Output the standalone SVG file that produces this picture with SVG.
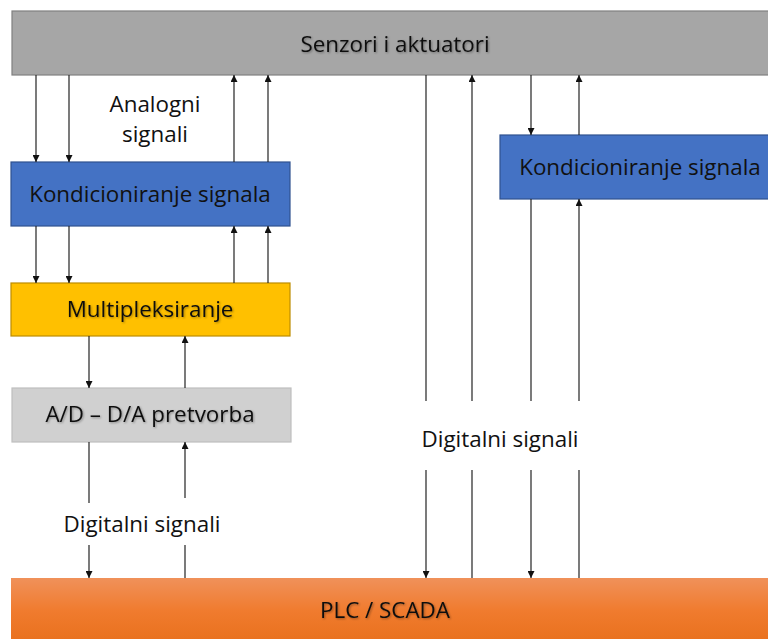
<svg xmlns="http://www.w3.org/2000/svg" width="768" height="639" viewBox="0 0 768 639">
<style>
.t{font-family:"Open Sans","Noto Sans","Liberation Sans",sans-serif;font-size:22.4px;fill:#111;text-anchor:middle}
.c line{stroke:#222;stroke-width:1.2;fill:none}
.a{marker-end:url(#ah)}
</style>
<defs>
<marker id="ah" viewBox="0 0 10 10" refX="10" refY="5" markerWidth="7" markerHeight="7" markerUnits="userSpaceOnUse" orient="auto"><path d="M0,0 L10,5 L0,10 z" fill="#111"/></marker>
<linearGradient id="og" x1="0" y1="0" x2="0" y2="1"><stop offset="0" stop-color="#f0915a"/><stop offset="0.5" stop-color="#f07b2e"/><stop offset="1" stop-color="#e8701c"/></linearGradient>
<filter id="sh" x="-10%" y="-10%" width="120%" height="130%"><feDropShadow dx="1" dy="1" stdDeviation="0.8" flood-color="#000" flood-opacity="0.35"/></filter>
</defs>
<rect width="768" height="639" fill="#fff"/>
<g id="senzori"><rect x="12" y="11" width="760" height="64" fill="#a6a6a6" stroke="#808080" stroke-width="1.2"/><text class="t" x="395" y="52" filter="url(#sh)">Senzori i aktuatori</text></g>
<g id="kond1"><rect x="11" y="162" width="279" height="64" fill="#4472c4" stroke="#2f528f" stroke-width="1.2"/><text class="t" x="150" y="202">Kondicioniranje signala</text></g>
<g id="kond2"><rect x="500" y="135" width="272" height="64" fill="#4472c4" stroke="#2f528f" stroke-width="1.2"/><text class="t" x="640" y="175">Kondicioniranje signala</text></g>
<g id="mux"><rect x="11" y="283" width="279" height="53" fill="#ffc000" stroke="#bc8c00" stroke-width="1.2"/><text class="t" x="150" y="317" filter="url(#sh)">Multipleksiranje</text></g>
<g id="adda"><rect x="12" y="388" width="279" height="54" fill="#d0d0d0" stroke="#bfbfbf" stroke-width="1.2"/><text class="t" x="150" y="422" filter="url(#sh)">A/D – D/A pretvorba</text></g>
<g id="plc"><rect x="11" y="578" width="762" height="66" fill="url(#og)"/><text class="t" x="385" y="618" filter="url(#sh)">PLC / SCADA</text></g>
<g id="labels">
<text class="t" x="155" y="112">Analogni</text>
<text class="t" x="155" y="142">signali</text>
<text class="t" x="142" y="532">Digitalni signali</text>
<text class="t" x="500" y="447">Digitalni signali</text>
</g>
<g class="c" id="connectors">
<line class="a" x1="36" y1="75" x2="36" y2="162"/>
<line class="a" x1="69" y1="75" x2="69" y2="162"/>
<line class="a" x1="234" y1="162" x2="234" y2="75"/>
<line class="a" x1="268" y1="162" x2="268" y2="75"/>
<line class="a" x1="36" y1="226" x2="36" y2="283"/>
<line class="a" x1="69" y1="226" x2="69" y2="283"/>
<line class="a" x1="234" y1="283" x2="234" y2="226"/>
<line class="a" x1="268" y1="283" x2="268" y2="226"/>
<line class="a" x1="89" y1="336" x2="89" y2="388"/>
<line class="a" x1="185" y1="388" x2="185" y2="336"/>
<line x1="89" y1="442" x2="89" y2="503"/>
<line class="a" x1="89" y1="545" x2="89" y2="578"/>
<line class="a" x1="185" y1="498" x2="185" y2="442"/>
<line x1="185" y1="545" x2="185" y2="578"/>
<line x1="426" y1="75" x2="426" y2="401"/>
<line class="a" x1="426" y1="470" x2="426" y2="578"/>
<line class="a" x1="472" y1="401" x2="472" y2="75"/>
<line x1="472" y1="470" x2="472" y2="578"/>
<line class="a" x1="531" y1="75" x2="531" y2="135"/>
<line x1="531" y1="199" x2="531" y2="401"/>
<line class="a" x1="531" y1="470" x2="531" y2="578"/>
<line class="a" x1="579" y1="135" x2="579" y2="75"/>
<line class="a" x1="579" y1="401" x2="579" y2="199"/>
<line x1="579" y1="470" x2="579" y2="578"/>
</g>
</svg>
